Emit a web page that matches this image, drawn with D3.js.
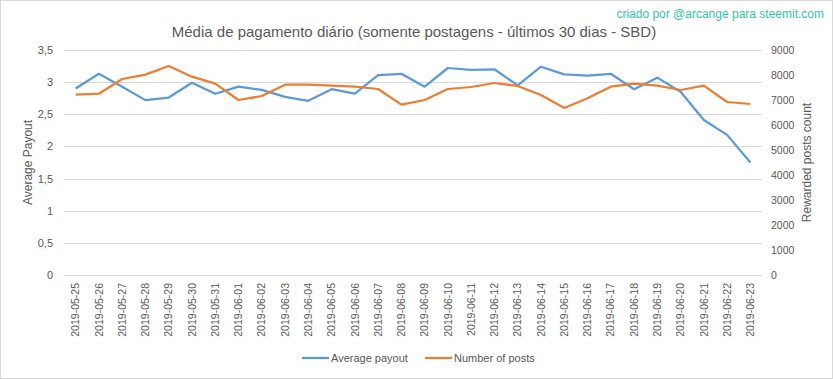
<!DOCTYPE html>
<html>
<head>
<meta charset="utf-8">
<script src="https://cdn.jsdelivr.net/npm/d3@7"></script>
<style>
  body { margin: 0; background: #fff; }
  text { font-family: "Liberation Sans", Arial, sans-serif; fill: #595959; }
</style>
</head>
<body>
<script>
// Chart data
var dates = ["2019-05-25","2019-05-26","2019-05-27","2019-05-28","2019-05-29","2019-05-30","2019-05-31",
             "2019-06-01","2019-06-02","2019-06-03","2019-06-04","2019-06-05","2019-06-06","2019-06-07",
             "2019-06-08","2019-06-09","2019-06-10","2019-06-11","2019-06-12","2019-06-13","2019-06-14",
             "2019-06-15","2019-06-16","2019-06-17","2019-06-18","2019-06-19","2019-06-20","2019-06-21",
             "2019-06-22","2019-06-23"];
var avgPayout = [2.90, 3.13, 2.93, 2.72, 2.76, 2.99, 2.82, 2.93, 2.88, 2.77,
                 2.71, 2.89, 2.82, 3.11, 3.13, 2.93, 3.22, 3.19, 3.20, 2.95,
                 3.24, 3.12, 3.10, 3.13, 2.89, 3.07, 2.85, 2.41, 2.18, 1.75];
var postCount = [7213, 7253, 7840, 8013, 8360, 7933, 7653, 7000, 7160, 7613,
                 7613, 7573, 7533, 7440, 6813, 7000, 7440, 7520, 7680, 7560,
                 7200, 6680, 7067, 7533, 7653, 7573, 7400, 7573, 6920, 6840];
var leftTicks = [0, 0.5, 1, 1.5, 2, 2.5, 3, 3.5];
var rightTicks = [0, 1000, 2000, 3000, 4000, 5000, 6000, 7000, 8000, 9000];

var W = 833, H = 379;
var margin = {top: 50, right: 71, bottom: 104, left: 64},
    width = W - margin.left - margin.right,
    height = H - margin.top - margin.bottom;

var svg0 = d3.select("body").append("svg")
    .attr("width", W)
    .attr("height", H);

// outer border
svg0.append("rect")
    .attr("x", 0.5).attr("y", 0.5)
    .attr("width", W - 1).attr("height", H - 1)
    .attr("fill", "#fff")
    .attr("stroke", "#d9d9d9");

var svg = svg0.append("g")
    .attr("transform", "translate(" + margin.left + "," + margin.top + ")");

var x = d3.scaleBand().domain(dates).range([0, width]);
var yL = d3.scaleLinear().domain([0, 3.5]).range([height, 0]);
var yR = d3.scaleLinear().domain([0, 9000]).range([height, 0]);

// gridlines
svg.selectAll(".grid")
    .data(leftTicks)
    .enter().append("line")
    .attr("class", "grid")
    .attr("x1", 0).attr("x2", width)
    .attr("y1", function(d) { return Math.round(yL(d)) + 0.5; })
    .attr("y2", function(d) { return Math.round(yL(d)) + 0.5; })
    .attr("stroke", "#d9d9d9")
    .attr("stroke-width", 1);

var fmt = function(d) { return String(d).replace(".", ","); };

// left axis
var leftAxis = svg.append("g")
    .call(d3.axisLeft(yL).tickValues(leftTicks).tickFormat(fmt).tickSize(0).tickPadding(11));
leftAxis.select(".domain").remove();
leftAxis.selectAll("text").style("font-size", "11px").attr("fill", "#595959");

// right axis
var rightAxis = svg.append("g")
    .attr("transform", "translate(" + width + ",0)")
    .call(d3.axisRight(yR).tickValues(rightTicks).tickFormat(d3.format("d")).tickSize(0).tickPadding(9));
rightAxis.select(".domain").remove();
rightAxis.selectAll("text").style("font-size", "10.5px").attr("fill", "#595959");

// x axis labels
var xAxis = svg.append("g")
    .attr("transform", "translate(0," + height + ")")
    .call(d3.axisBottom(x).tickSize(0).tickPadding(0));
xAxis.select(".domain").remove();
xAxis.selectAll("text")
    .style("font-size", "10.5px")
    .attr("fill", "#595959")
    .attr("transform", "rotate(-90)")
    .attr("x", -8)
    .attr("y", 0)
    .attr("dy", "0.35em")
    .style("text-anchor", "end");

// lines
var lineL = d3.line()
    .x(function(d, i) { return x(dates[i]) + x.bandwidth() / 2; })
    .y(function(d) { return yL(d); });
var lineR = d3.line()
    .x(function(d, i) { return x(dates[i]) + x.bandwidth() / 2; })
    .y(function(d) { return yR(d); });

svg.append("path")
    .datum(avgPayout)
    .attr("d", lineL)
    .attr("fill", "none")
    .attr("stroke", "#5b9bd5")
    .attr("stroke-width", 2.25)
    .attr("stroke-linejoin", "round");

svg.append("path")
    .datum(postCount)
    .attr("d", lineR)
    .attr("fill", "none")
    .attr("stroke", "#ed7d31")
    .attr("stroke-width", 2.25)
    .attr("stroke-linejoin", "round");

// axis titles
svg0.append("text")
    .attr("transform", "translate(32," + (margin.top + height / 2) + ") rotate(-90)")
    .style("text-anchor", "middle")
    .style("font-size", "12px")
    .text("Average Payout");

svg0.append("text")
    .attr("transform", "translate(811," + (margin.top + height / 2) + ") rotate(-90)")
    .style("text-anchor", "middle")
    .style("font-size", "12px")
    .text("Rewarded posts count");

// title
svg0.append("text")
    .attr("x", 414)
    .attr("y", 37)
    .style("text-anchor", "middle")
    .style("font-size", "15px")
    .text("Média de pagamento diário (somente postagens - últimos 30 dias - SBD)");

// watermark
svg0.append("text")
    .attr("x", 824)
    .attr("y", 18)
    .style("text-anchor", "end")
    .style("font-size", "12px")
    .style("fill", "#33c6a4")
    .text("criado por @arcange para steemit.com");

// legend
var legend = [
    {name: "Average payout", color: "#5b9bd5", x: 302},
    {name: "Number of posts", color: "#ed7d31", x: 425}
];
var lg = svg0.selectAll(".legend")
    .data(legend)
    .enter().append("g")
    .attr("class", "legend")
    .attr("transform", function(d) { return "translate(" + d.x + ",358)"; });
lg.append("line")
    .attr("x1", 0).attr("x2", 27)
    .attr("y1", 0).attr("y2", 0)
    .attr("stroke", function(d) { return d.color; })
    .attr("stroke-width", 2.25);
lg.append("text")
    .attr("x", 29)
    .attr("dy", "0.35em")
    .style("font-size", "11px")
    .text(function(d) { return d.name; });
</script>
</body>
</html>
